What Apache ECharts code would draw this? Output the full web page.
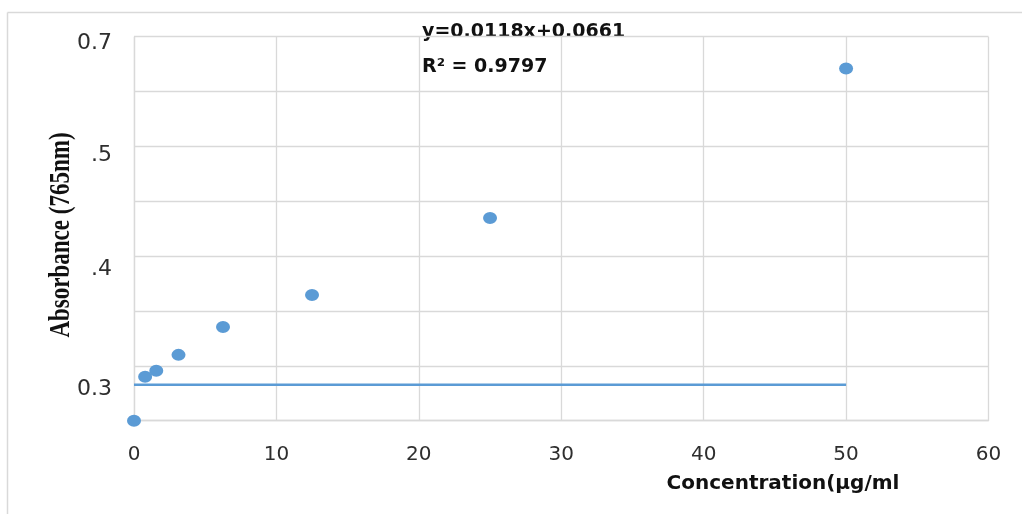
<!DOCTYPE html>
<html>
    <head>
        <title>Absorbance vs concentration</title>
        <meta charset="UTF-8">
        <script src="https://cdn.jsdelivr.net/npm/echarts@6/dist/echarts.min.js"></script>
        <style>
            body {
                margin: 0;
                background-color: #fff;
            }
            #main {
                width: 1022px;
                height: 514px;
            }
        </style>
    </head>
    <body>
        <div id="main"></div>
        <script>
            // concentrations (µg/ml) and absorbance
            var concentration = [0, 0.78125, 1.5625, 3.125, 6.25, 12.5, 25, 50];
            var absorbance = [0.0, 0.080, 0.091, 0.120, 0.171, 0.229, 0.3695, 0.642];
            // the drawn (flat) trend line
            var trendX = [0, 50];
            var trendY = [0.0656, 0.0656];
            // y tick labels as they sit on the picture
            var yLabelValues = [0.6885, 0.4832, 0.2765, 0.0578];
            var yLabels = ['0.7', '.5', '.4', '0.3'];

            var points = concentration.map(function (c, i) {
                return [c, absorbance[i]];
            });
            var trend = trendX.map(function (x, i) {
                return [x, trendY[i]];
            });

            var chart = echarts.init(document.getElementById('main'));
            var gridColor = '#d9d9d9';
            var blue = '#5b9bd5';

            option = {
                animation: false,
                grid: {
                    left: 134,
                    top: 36.7,
                    right: 33.5,
                    bottom: 93.3
                },
                xAxis: {
                    type: 'value',
                    min: 0,
                    max: 60,
                    interval: 10,
                    axisLine: {lineStyle: {color: gridColor, width: 1.3}},
                    axisTick: {show: false},
                    splitLine: {lineStyle: {color: gridColor, width: 1.3}},
                    axisLabel: {
                        margin: 24,
                        color: '#2e2e2e',
                        fontFamily: 'DejaVu Sans',
                        fontSize: 20
                    }
                },
                yAxis: {
                    type: 'value',
                    min: 0,
                    max: 0.7,
                    interval: 0.1,
                    axisLine: {show: true, lineStyle: {color: gridColor, width: 1.3}},
                    axisTick: {show: false},
                    splitLine: {lineStyle: {color: gridColor, width: 1.3}},
                    axisLabel: {
                        customValues: yLabelValues,
                        margin: 22,
                        color: '#2e2e2e',
                        fontFamily: 'DejaVu Sans',
                        fontSize: 22,
                        formatter: function (v) {
                            for (var i = 0; i < yLabelValues.length; i++) {
                                if (Math.abs(v - yLabelValues[i]) < 1e-6) return yLabels[i];
                            }
                            return '';
                        }
                    }
                },
                graphic: [
                    {type: 'line', shape: {x1: 7.5, y1: 12.5, x2: 1022, y2: 12.5},
                        style: {stroke: gridColor, lineWidth: 1.5}, silent: true},
                    {type: 'line', shape: {x1: 7.5, y1: 12.5, x2: 7.5, y2: 514},
                        style: {stroke: gridColor, lineWidth: 1.5}, silent: true},
                    // scaleY widens the rotated glyphs like the stretched original
                    {type: 'text', x: 61, y: 235, rotation: Math.PI / 2, scaleY: 1.3,
                        style: {text: 'Absorbance (765nm)', fill: '#111',
                            font: 'bold 23px "Liberation Serif"', align: 'center', verticalAlign: 'middle'}},
                    {type: 'text', x: 422, y: 32,
                        style: {text: 'y=0.0118x+0.0661', fill: '#111',
                            font: 'bold 19px "DejaVu Sans"', align: 'left', verticalAlign: 'middle'}},
                    {type: 'text', x: 422, y: 67,
                        style: {text: 'R² = 0.9797', fill: '#111',
                            font: 'bold 19px "DejaVu Sans"', align: 'left', verticalAlign: 'middle'}},
                    {type: 'text', x: 783, y: 484,
                        style: {text: 'Concentration(μg/ml', fill: '#111',
                            font: 'bold 20px "DejaVu Sans"', align: 'center', verticalAlign: 'middle'}}
                ],
                series: [{
                        name: 'trend',
                        type: 'line',
                        data: trend,
                        showSymbol: false,
                        lineStyle: {color: blue, width: 2.5},
                        z: 2
                    }, {
                        name: 'absorbance',
                        type: 'scatter',
                        data: points,
                        symbolSize: [14, 12],
                        itemStyle: {color: blue, opacity: 1},
                        z: 3
                    }]
            };
            chart.setOption(option);
        </script>
    </body>
</html>
